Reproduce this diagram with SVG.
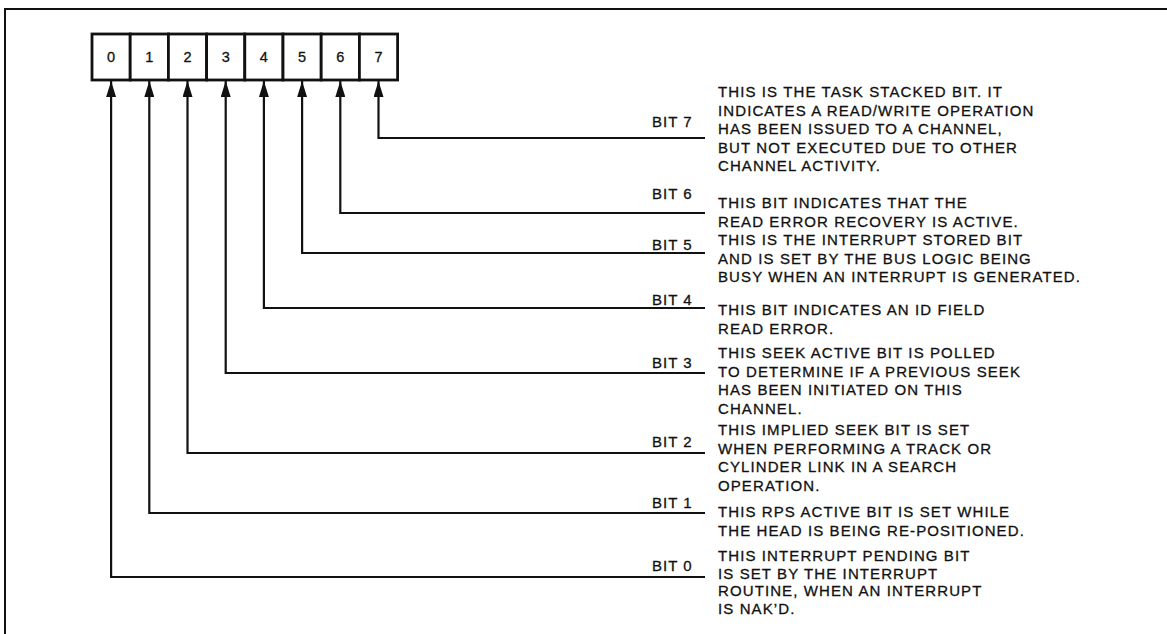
<svg xmlns="http://www.w3.org/2000/svg" width="1167" height="634" viewBox="0 0 1167 634">
<style>
  .frame{fill:none;stroke:#111;stroke-width:2}
  .cell{fill:#fff;stroke:#111;stroke-width:2.8}
  .digit{font-family:"Liberation Sans",Arial,sans-serif;font-size:14.5px;fill:#111;stroke:#111;stroke-width:0.3;text-anchor:middle}
  .lbl{font-family:"Liberation Sans",Arial,sans-serif;font-size:15px;fill:#111;stroke:#111;stroke-width:0.3;letter-spacing:1px}
  .desc{font-family:"Liberation Sans",Arial,sans-serif;font-size:15px;fill:#111;stroke:#111;stroke-width:0.3;letter-spacing:1.1px}
  .conn{fill:none;stroke:#111;stroke-width:2.2;marker-end:url(#ah)}
</style>
<defs>
  <marker id="ah" viewBox="0 0 16 10" refX="16" refY="5" markerWidth="16" markerHeight="10" markerUnits="userSpaceOnUse" orient="auto">
    <path d="M0,0 L16,5 L0,10 z" fill="#111"/>
  </marker>
</defs>
<rect width="1167" height="634" fill="#fff"/>
<path class="frame" d="M5,634 V9 H1167"/>

<g id="register">
  <g id="cell0"><rect class="cell" x="92" y="34" width="38.2" height="46"/><text class="digit" x="111.1" y="62">0</text></g>
  <g id="cell1"><rect class="cell" x="130.2" y="34" width="38.2" height="46"/><text class="digit" x="149.3" y="62">1</text></g>
  <g id="cell2"><rect class="cell" x="168.4" y="34" width="38.2" height="46"/><text class="digit" x="187.5" y="62">2</text></g>
  <g id="cell3"><rect class="cell" x="206.6" y="34" width="38.2" height="46"/><text class="digit" x="225.7" y="62">3</text></g>
  <g id="cell4"><rect class="cell" x="244.8" y="34" width="38.2" height="46"/><text class="digit" x="263.9" y="62">4</text></g>
  <g id="cell5"><rect class="cell" x="283" y="34" width="38.2" height="46"/><text class="digit" x="302.1" y="62">5</text></g>
  <g id="cell6"><rect class="cell" x="321.2" y="34" width="38.2" height="46"/><text class="digit" x="340.3" y="62">6</text></g>
  <g id="cell7"><rect class="cell" x="359.4" y="34" width="38.2" height="46"/><text class="digit" x="378.5" y="62">7</text></g>
</g>

<g id="connectors">
  <path class="conn" d="M705,138 H378.5 V81"/>
  <path class="conn" d="M705,213 H340.3 V81"/>
  <path class="conn" d="M705,253 H302.1 V81"/>
  <path class="conn" d="M705,308 H263.9 V81"/>
  <path class="conn" d="M705,373 H225.7 V81"/>
  <path class="conn" d="M705,453 H187.5 V81"/>
  <path class="conn" d="M705,513 H149.3 V81"/>
  <path class="conn" d="M705,577 H111.1 V81"/>
</g>

<g id="bit7">
  <text class="lbl" x="652" y="127">BIT 7</text>
  <text class="desc" x="718" y="97"><tspan x="718">THIS IS THE TASK STACKED BIT.  IT</tspan><tspan x="718" dy="18.5">INDICATES A READ/WRITE OPERATION</tspan><tspan x="718" dy="18.5">HAS BEEN ISSUED TO A CHANNEL,</tspan><tspan x="718" dy="18.5">BUT NOT EXECUTED DUE TO OTHER</tspan><tspan x="718" dy="18.5">CHANNEL ACTIVITY.</tspan></text>
</g>
<g id="bit6">
  <text class="lbl" x="652" y="199">BIT 6</text>
  <text class="desc" x="718" y="208"><tspan x="718">THIS BIT INDICATES THAT THE</tspan><tspan x="718" dy="18.5">READ ERROR RECOVERY IS ACTIVE.</tspan></text>
</g>
<g id="bit5">
  <text class="lbl" x="652" y="250">BIT 5</text>
  <text class="desc" x="718" y="245"><tspan x="718">THIS IS THE INTERRUPT STORED BIT</tspan><tspan x="718" dy="18.5">AND IS SET BY THE BUS LOGIC BEING</tspan><tspan x="718" dy="18.5">BUSY WHEN AN INTERRUPT IS GENERATED.</tspan></text>
</g>
<g id="bit4">
  <text class="lbl" x="652" y="305">BIT 4</text>
  <text class="desc" x="718" y="315"><tspan x="718">THIS BIT INDICATES AN ID FIELD</tspan><tspan x="718" dy="18.5">READ ERROR.</tspan></text>
</g>
<g id="bit3">
  <text class="lbl" x="652" y="368">BIT 3</text>
  <text class="desc" x="718" y="358"><tspan x="718">THIS SEEK ACTIVE BIT IS POLLED</tspan><tspan x="718" dy="18.5">TO DETERMINE IF A PREVIOUS SEEK</tspan><tspan x="718" dy="18.5">HAS BEEN INITIATED ON THIS</tspan><tspan x="718" dy="18.5">CHANNEL.</tspan></text>
</g>
<g id="bit2">
  <text class="lbl" x="652" y="447">BIT 2</text>
  <text class="desc" x="718" y="435"><tspan x="718">THIS IMPLIED SEEK BIT IS SET</tspan><tspan x="718" dy="18.5">WHEN PERFORMING A TRACK OR</tspan><tspan x="718" dy="18.5">CYLINDER LINK IN A SEARCH</tspan><tspan x="718" dy="18.5">OPERATION.</tspan></text>
</g>
<g id="bit1">
  <text class="lbl" x="652" y="508">BIT 1</text>
  <text class="desc" x="718" y="517"><tspan x="718">THIS RPS ACTIVE BIT IS SET WHILE</tspan><tspan x="718" dy="18.5">THE HEAD IS BEING RE-POSITIONED.</tspan></text>
</g>
<g id="bit0">
  <text class="lbl" x="652" y="571">BIT 0</text>
  <text class="desc" x="718" y="561"><tspan x="718">THIS INTERRUPT PENDING BIT</tspan><tspan x="718" dy="17.5">IS SET BY THE INTERRUPT</tspan><tspan x="718" dy="17.5">ROUTINE, WHEN AN INTERRUPT</tspan><tspan x="718" dy="17.5">IS NAK’D.</tspan></text>
</g>
</svg>
